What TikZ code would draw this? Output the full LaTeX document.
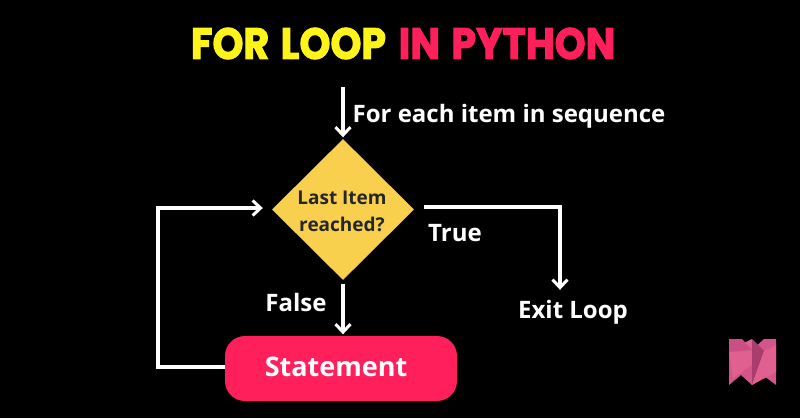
\documentclass[tikz,border=0pt]{standalone}
\usepackage{fontspec}
\setmainfont{Open Sans}
\newfontfamily\titlefont[FakeBold=2.6]{Poppins Bold}
\usetikzlibrary{shapes.geometric,arrows.meta}
\definecolor{tyellow}{HTML}{FFF419}
\definecolor{tpink}{HTML}{FF1F5B}
\definecolor{dgold}{HTML}{F8D04E}
\definecolor{logoA}{HTML}{C94F85}
\definecolor{logoB}{HTML}{E0608F}
\definecolor{logoC}{HTML}{D4558A}
\definecolor{logoD}{HTML}{A83D6E}
\tikzset{
  x=1pt,y=-1pt,
  flow/.style={draw=white,line width=3.4pt,-{Straight Barb[length=8pt,width=15pt,line width=3pt]},line join=miter},
  lbl/.style={text=white,font=\bfseries\fontsize{24}{28}\selectfont,inner sep=0pt,anchor=center},
  ttl/.style={font=\titlefont\fontsize{37}{40}\selectfont,inner sep=0pt,anchor=center},
  facet/.style={draw=none,line width=0pt}
}
\begin{document}
\begin{tikzpicture}
\useasboundingbox[fill=black] (0,0) rectangle (800,418);
\node[ttl,text=tyellow] (t1) at (288.5,43.5) {\scalebox{1.065}[1.18]{FOR\hspace{3pt} LOOP}};
\node[ttl,text=tpink] (t2) at (507,43.5) {\scalebox{1.065}[1.18]{IN\hspace{3pt} PYTHON}};
\node[diamond,fill=dgold,minimum width=142pt,minimum height=141pt,inner sep=0pt,aspect=1] (dia) at (343,209.5) {};
\node[align=center,inner sep=0pt,font=\bfseries\fontsize{19}{27}\selectfont,text=black!85] (diatext) at (342,211) {Last Item\\reached?};
\node[fill=tpink,rounded corners=20pt,minimum width=232pt,minimum height=65pt,inner sep=0pt] (st) at (341,368.5) {};
\node[text=white,inner sep=0pt,font=\bfseries\fontsize{27}{30}\selectfont] (sttext) at (336,366.5) {Statement};
\node[lbl] (each) at (509,116) {For each item in sequence};
\node[lbl] (tr) at (455,233) {True};
\node[lbl] (fa) at (296,302.5) {False};
\node[lbl] (ex) at (573,312) {Exit Loop};
\coordinate (in) at (343,87);
\coordinate (loopL) at (158,367);
\coordinate (loopT) at (158,208);
\coordinate (trueR) at (560,207);
\draw[flow,shorten >=1.5pt] (in) -- (dia.north);
\draw[flow,shorten <=3.5pt,shorten >=1.5pt] (dia.south) -- (st.north -| dia.south);
\draw[flow,shorten >=9pt] (st.west |- loopL) -- (loopL) -- (loopT) -- (dia.west |- loopT);
\draw[flow,shorten <=10pt,shorten >=10pt] (dia.east |- trueR) -- (trueR) -- (ex.north -| trueR);
% logo
\fill[facet,fill=logoC] (729,339) -- (742,339) -- (752,350) -- (764,339) -- (776,339) -- (776,385) -- (764,376) -- (752,385) -- (741,375) -- (729,385) -- cycle;
\fill[facet,fill=logoB] (729,350) -- (752,339) -- (752,365) -- (733,378) -- cycle;
\fill[facet,fill=logoD] (752,339) -- (764,351) -- (752,385) -- cycle;
\fill[facet,fill=logoB] (776,345) -- (764,351) -- (752,385) -- (776,372) -- cycle;
\fill[facet,fill=logoA] (729,339) -- (741,339) -- (752,350) -- (729,352) -- cycle;
\end{tikzpicture}
\end{document}
